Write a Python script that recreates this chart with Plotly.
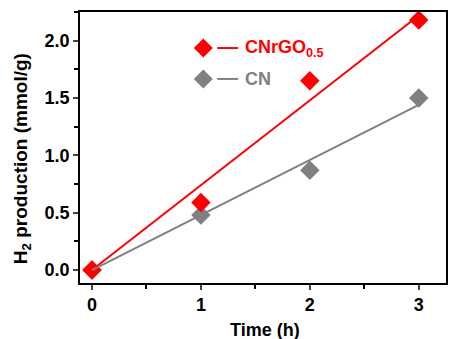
import plotly.graph_objects as go

time_h = [0, 1, 2, 3]
cnrgo = [0.0, 0.59, 1.65, 2.18]
cn = [0.0, 0.48, 0.87, 1.50]
fit_x = [0, 3]
fit_cnrgo = [0.0, 2.22]
fit_cn = [0.0, 1.44]

RED = "#FF0000"
GRAY = "#808080"
FONT = "Liberation Sans, Arial, sans-serif"

fig = go.Figure()
fig.add_trace(go.Scatter(x=time_h, y=cn, mode="markers", cliponaxis=False,
                         marker=dict(symbol="diamond", size=15, color=GRAY), showlegend=False))
fig.add_trace(go.Scatter(x=time_h, y=cnrgo, mode="markers", cliponaxis=False,
                         marker=dict(symbol="diamond", size=15, color=RED), showlegend=False))
fig.add_trace(go.Scatter(x=fit_x, y=fit_cnrgo, mode="lines", line=dict(color=RED, width=2), showlegend=False))
fig.add_trace(go.Scatter(x=fit_x, y=fit_cn, mode="lines", line=dict(color=GRAY, width=2), showlegend=False))

# manual legend (marker, short line, label)
shapes = []
annotations = []
for yp, col, label in [(0.867, RED, "CNrGO<sub>0.5</sub>"), (0.753, GRAY, "CN")]:
    shapes.append(dict(type="path", xref="paper", yref="paper", xsizemode="pixel", ysizemode="pixel",
                       xanchor=0.337, yanchor=yp, path="M -9.5 0 L 0 9.5 L 9.5 0 L 0 -9.5 Z",
                       fillcolor=col, line=dict(width=0)))
    shapes.append(dict(type="line", xref="paper", yref="paper", x0=0.375, x1=0.432, y0=yp, y1=yp,
                       line=dict(color=col, width=2)))
    annotations.append(dict(xref="paper", yref="paper", x=0.446, y=yp, xanchor="left", yanchor="middle",
                            text="<b>" + label + "</b>", showarrow=False,
                            font=dict(family=FONT, size=18, color=col)))

# axis titles
annotations.append(dict(xref="paper", yref="paper", x=-0.158, y=0.4576, xanchor="center", yanchor="middle",
                        textangle=-90, showarrow=False, text="<b>H<sub>2</sub> production (mmol/g)</b>",
                        font=dict(family=FONT, size=19, color="black")))
annotations.append(dict(xref="paper", yref="paper", x=0.505, y=-0.13, xanchor="center", yanchor="top",
                        showarrow=False, text="<b>Time (h)</b>",
                        font=dict(family=FONT, size=18, color="black")))

fig.update_layout(
    width=449, height=339,
    margin=dict(l=80, r=1, t=12, b=56),
    paper_bgcolor="white", plot_bgcolor="white",
    font=dict(family=FONT, size=18, color="black"),
    shapes=shapes, annotations=annotations,
)
fig.update_xaxes(range=[-0.11, 3.25], tickvals=time_h, ticks="outside", ticklen=5, tickwidth=1.5,
                 minor=dict(dtick=0.5, tick0=0, ticks="outside", ticklen=4, tickwidth=1.5, tickcolor="black"),
                 showline=True, linecolor="black", linewidth=1.5, mirror=True, showgrid=False, zeroline=False,
                 tickfont=dict(family=FONT, size=18, weight="bold"))
fig.update_yaxes(range=[-0.113, 2.25], tickvals=[0, 0.5, 1.0, 1.5, 2.0], tickformat=".1f",
                 ticks="outside", ticklen=5, tickwidth=1.5,
                 minor=dict(dtick=0.25, tick0=0, ticks="outside", ticklen=4, tickwidth=1.5, tickcolor="black"),
                 showline=True, linecolor="black", linewidth=1.5, mirror=True, showgrid=False, zeroline=False,
                 tickfont=dict(family=FONT, size=18, weight="bold"))

fig.write_html("out.html")
